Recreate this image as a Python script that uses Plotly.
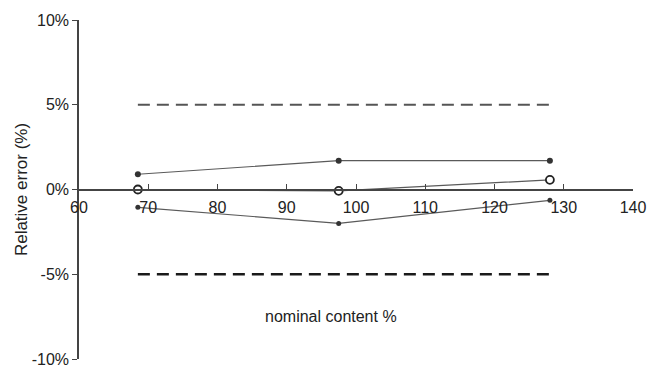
import plotly.graph_objects as go

# Nominal content levels (%)
nominal = [68.5, 97.5, 128.0]

# Relative error (%) for the three series
series_a = [0.9, 1.7, 1.7]
series_b = [0.0, -0.08, 0.57]
series_c = [-1.05, -2.0, -0.64]

# Acceptance limits (%)
upper_limit = 5.0
lower_limit = -5.0

y_ticks = [-10, -5, 0, 5, 10]
y_tick_text = ["-10%", "-5%", "0%", "5%", "10%"]
x_ticks = [60, 70, 80, 90, 100, 110, 120, 130, 140]

line_col = "#5a5a5a"
mark_col = "#333333"

fig = go.Figure()

# Limit lines
fig.add_trace(go.Scatter(
    x=[nominal[0], nominal[-1]], y=[upper_limit, upper_limit], mode="lines",
    line=dict(color="#555555", width=2, dash="12px,7px"), showlegend=False, hoverinfo="skip"))
fig.add_trace(go.Scatter(
    x=[nominal[0], nominal[-1]], y=[lower_limit, lower_limit], mode="lines",
    line=dict(color="#1a1a1a", width=2.6, dash="12px,7px"), showlegend=False, hoverinfo="skip"))

fig.add_trace(go.Scatter(
    x=nominal, y=series_a, mode="lines+markers",
    line=dict(color=line_col, width=1.2),
    marker=dict(symbol="circle", size=6, color=mark_col), showlegend=False))
fig.add_trace(go.Scatter(
    x=nominal, y=series_b, mode="lines+markers",
    line=dict(color=line_col, width=1.2),
    marker=dict(symbol="circle", size=8, color="white", line=dict(color="#222222", width=1.8)),
    showlegend=False))
fig.add_trace(go.Scatter(
    x=nominal, y=series_c, mode="lines+markers",
    line=dict(color=line_col, width=1.2),
    marker=dict(symbol="circle", size=5, color=mark_col), showlegend=False))

fig.update_layout(
    width=649, height=369,
    margin=dict(l=79, r=16, t=20, b=10),
    paper_bgcolor="white", plot_bgcolor="white",
    font=dict(family="Liberation Sans, Arial, sans-serif", size=15, color="#222222"),
    xaxis=dict(
        range=[60, 140], tickvals=x_ticks, showgrid=False, zeroline=False,
        showline=True, linecolor="#444444", linewidth=1.5,
        ticks="inside", ticklen=5, tickcolor="#444444",
        anchor="free", position=0.5, ticklabeloverflow="allow", automargin=False,
        ticklabelstandoff=4,
        tickfont=dict(size=16, color="#222222"),
    ),
    yaxis=dict(
        range=[-10, 10], tickvals=y_ticks, ticktext=y_tick_text,
        showgrid=False, zeroline=False,
        showline=True, linecolor="#444444", linewidth=1.5,
        ticks="outside", ticklen=5, tickcolor="#444444", ticklabeloverflow="allow",
        automargin=False,
        tickfont=dict(size=16, color="#222222"),
        title=dict(text="Relative error (%)", font=dict(size=17, color="#222222"), standoff=0),
    ),
    annotations=[dict(
        text="nominal content %", x=0.455, y=0.095, xref="paper", yref="paper",
        showarrow=False, font=dict(size=16, color="#222222"))],
)

fig.write_html("out.html")
